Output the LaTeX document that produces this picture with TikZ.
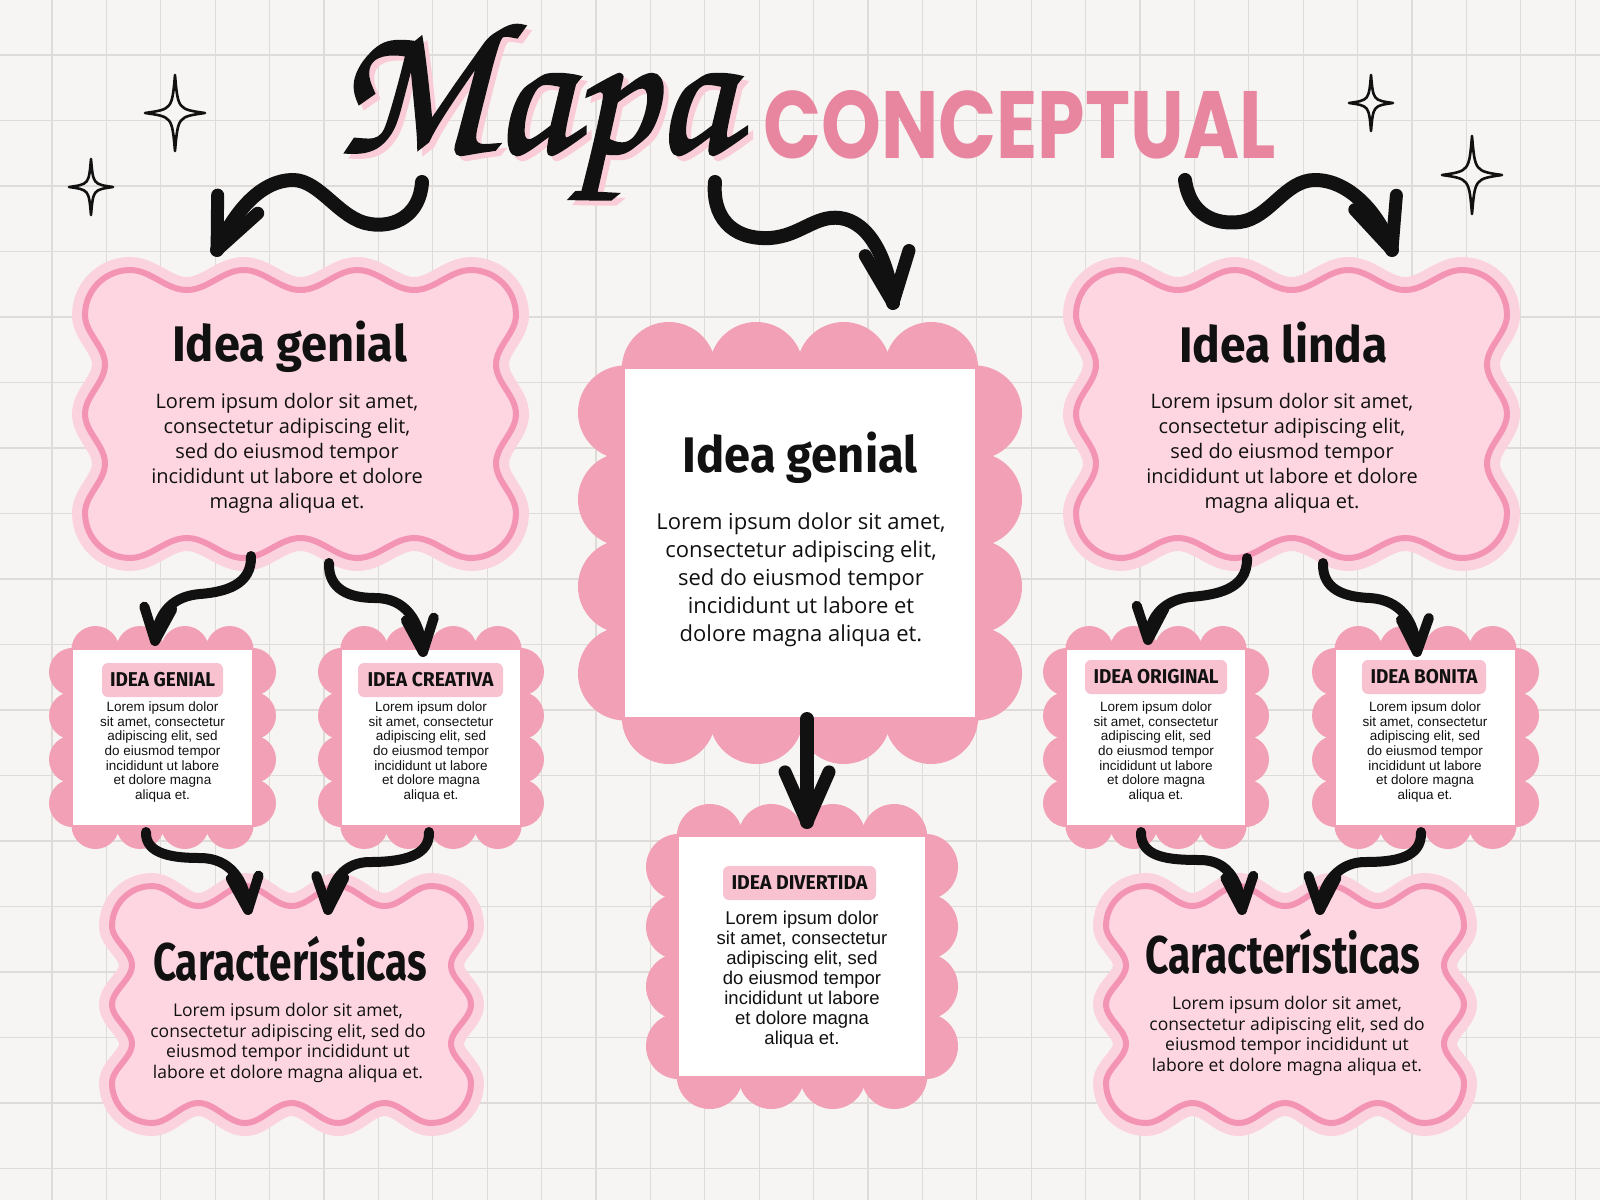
\documentclass[tikz,border=0pt]{standalone}
\usepackage{fontspec}
\usepackage{graphicx}
\usetikzlibrary{decorations.markings}
\newfontfamily\bodyf{Open Sans}
\newfontfamily\smallf{Liberation Sans}
\newfontfamily\headf{Fira Sans}
\newfontfamily\concf{Poppins}
\newfontfamily\scriptf{texgyrechorus-mediumitalic.otf}[FakeBold=1.6]
\definecolor{bg}{HTML}{F7F5F3}
\definecolor{gridc}{HTML}{DEDBD9}
\definecolor{halo}{HTML}{FBD3DE}
\definecolor{wfill}{HTML}{FDD6E1}
\definecolor{wline}{HTML}{F394B4}
\definecolor{scal}{HTML}{F2A0B5}
\definecolor{lab}{HTML}{F8C2D1}
\definecolor{conc}{HTML}{E8859F}
\definecolor{shadowc}{HTML}{F9CCD7}
\definecolor{ink}{HTML}{111111}
\def\wA{10}
\newcommand\htext[3]{\resizebox{#1pt}{\height}{\fontsize{#2}{#2}\selectfont\headf\bfseries #3}}
% wavy rounded rectangle: x1 y1 x2 y2 r mtop mside
\newcommand\wavy[7]{%
  \path[fill=wfill, preaction={draw=halo, line width=26pt}, draw=wline, line width=6pt, line join=round]
  plot[domain=0:1, samples=60, smooth, variable=\t] ({#1+#5+(#3-#1-2*#5)*\t}, {#2-\wA*cos(180*#6*\t)})
  -- plot[domain=90:0, samples=10, smooth, variable=\an] ({#3-#5+(#5+\wA)*cos(\an)}, {#2+#5-(#5+\wA)*sin(\an)})
  -- plot[domain=0:1, samples=50, smooth, variable=\t] ({#3+\wA*cos(180*#7*\t)}, {#2+#5+(#4-#2-2*#5)*\t})
  -- plot[domain=0:-90, samples=10, smooth, variable=\an] ({#3-#5+(#5+\wA)*cos(\an)}, {#4-#5-(#5+\wA)*sin(\an)})
  -- plot[domain=0:1, samples=60, smooth, variable=\t] ({#3-#5-(#3-#1-2*#5)*\t}, {#4+\wA*cos(180*#6*\t)})
  -- plot[domain=-90:-180, samples=10, smooth, variable=\an] ({#1+#5+(#5+\wA)*cos(\an)}, {#4-#5-(#5+\wA)*sin(\an)})
  -- plot[domain=0:1, samples=50, smooth, variable=\t] ({#1-\wA*cos(180*#7*\t)}, {#4-#5-(#4-#2-2*#5)*\t})
  -- plot[domain=180:90, samples=10, smooth, variable=\an] ({#1+#5+(#5+\wA)*cos(\an)}, {#2+#5-(#5+\wA)*sin(\an)})
  -- cycle;
}
\newcommand\scallop[6]{%
  \foreach \k in {1,...,#5}{%
    \pgfmathsetmacro\scx{#1+(#3-#1)*(\k-0.5)/#5}%
    \pgfmathsetmacro\scy{#2+(#4-#2)*(\k-0.5)/#5}%
    \fill[scal] (\scx,#2) circle[radius=#6pt] (\scx,#4) circle[radius=#6pt] (#1,\scy) circle[radius=#6pt] (#3,\scy) circle[radius=#6pt];
  }%
  \fill[white] (#1,#2) rectangle (#3,#4);
}
\newcommand\sparkle[4]{%
  \draw[ink, line width=2.6pt, line join=round, line cap=round]
  (#1,{#2-#4}) .. controls ({#1+0.1*#3},{#2-0.1*#4}) .. ({#1+#3},#2)
  .. controls ({#1+0.1*#3},{#2+0.1*#4}) .. (#1,{#2+#4})
  .. controls ({#1-0.1*#3},{#2+0.1*#4}) .. ({#1-#3},#2)
  .. controls ({#1-0.1*#3},{#2-0.1*#4}) .. (#1,{#2-#4});
}
\begin{document}
\begin{tikzpicture}[x=1pt,y=-1pt,
  arrbig/.style={draw=ink, line width=14pt, line cap=round, line join=round, postaction=decorate,
    decoration={markings, mark=at position 0.999 with {\draw[ink, line width=13pt, line cap=round, line join=round] (-50pt,22pt) -- (0pt,0pt) -- (-50pt,-22pt);}}},
  arrsmall/.style={draw=ink, line width=10pt, line cap=round, line join=round, postaction=decorate,
    decoration={markings, mark=at position 0.999 with {\draw[ink, line width=10pt, line cap=round, line join=round] (-33pt,14pt) -- (0pt,0pt) -- (-33pt,-14pt);}}},
  body/.style={align=center, inner sep=0pt, text=ink},
  lbl/.style={fill=lab, rounded corners=6pt, minimum height=34pt, inner sep=0pt, text=ink},
  ttl/.style={anchor=base, inner sep=0pt, text=ink}]
\useasboundingbox (0,0) rectangle (1600,1200);
\fill[bg] (0,0) rectangle (1600,1200);
\foreach \i in {0,...,28} \draw[gridc, line width=1.3pt] ({52+54.4*\i},0) -- ++(0,1200);
\foreach \j in {0,...,17} \draw[gridc, line width=1.3pt] (0,{55+65.5*\j}) -- ++(1600,0);

% title
\node[anchor=north west, inner sep=0pt, text=shadowc] (mapash) at (340,30) {\resizebox*{398pt}{174pt}{\fontsize{100}{100}\selectfont\scriptf Mapa}};
\node[anchor=north west, inner sep=0pt, text=ink] (mapa) at (335,25) {\resizebox*{398pt}{174pt}{\fontsize{100}{100}\selectfont\scriptf Mapa}};
\node[anchor=base west, inner sep=0pt, text=conc] (conc) at (763,158) {\resizebox{513pt}{68pt}{\fontsize{60}{60}\selectfont\concf\bfseries CONCEPTUAL}};

% sparkles
\sparkle{175}{113}{30}{38}
\sparkle{91}{187}{22}{28}
\sparkle{1371}{103}{22}{28}
\sparkle{1472}{175}{30}{39}

% wavy boxes
\wavy{95}{280}{506}{548}{35}{6}{4}
\wavy{1086}{280}{1497}{548}{35}{6}{4}
\wavy{122}{896}{461}{1113}{30}{6}{4}
\wavy{1116}{896}{1454}{1113}{30}{6}{4}

% scalloped boxes
\scallop{625}{369}{975}{717}{4}{47}
\scallop{679}{837}{925}{1076}{4}{33}
\scallop{73}{650}{252}{825}{4}{24}
\scallop{342}{650}{520}{825}{4}{24}
\scallop{1067}{650}{1245}{825}{4}{24}
\scallop{1336}{650}{1515}{825}{4}{24}

% arrows
\coordinate (a1s) at (422,182); \coordinate (a1e) at (217,250);
\draw[arrbig] (a1s) .. controls (420,215) and (395,228) .. (370,224) .. controls (340,220) and (320,180) .. (293,180) .. controls (262,180) and (235,210) .. (a1e);
\coordinate (a2s) at (715,182); \coordinate (a2e) at (893,303);
\draw[arrbig] (a2s) .. controls (712,215) and (730,240) .. (770,238) .. controls (800,236) and (815,215) .. (840,218) .. controls (870,222) and (888,260) .. (a2e);
\coordinate (a3s) at (1185,180); \coordinate (a3e) at (1392,250);
\draw[arrbig] (a3s) .. controls (1190,215) and (1215,225) .. (1240,222) .. controls (1270,218) and (1285,180) .. (1315,180) .. controls (1350,180) and (1380,215) .. (a3e);
\coordinate (a4s) at (807,719); \coordinate (a4e) at (807,822);
\draw[arrbig] (a4s) -- (a4e);
\coordinate (a5s) at (251,556); \coordinate (a5e) at (155,641);
\draw[arrsmall] (a5s) .. controls (252,585) and (225,592) .. (200,594) .. controls (175,596) and (158,610) .. (a5e);
\coordinate (a6s) at (329,563); \coordinate (a6e) at (423,652);
\draw[arrsmall] (a6s) .. controls (328,590) and (350,598) .. (375,598) .. controls (405,598) and (420,620) .. (a6e);
\coordinate (a7s) at (146,832); \coordinate (a7e) at (248,910);
\draw[arrsmall] (a7s) .. controls (145,855) and (175,858) .. (200,858) .. controls (230,858) and (245,880) .. (a7e);
\coordinate (a8s) at (429,832); \coordinate (a8e) at (328,910);
\draw[arrsmall] (a8s) .. controls (430,855) and (405,862) .. (370,862) .. controls (345,862) and (330,880) .. (a8e);
\coordinate (a9s) at (1247,558); \coordinate (a9e) at (1148,640);
\draw[arrsmall] (a9s) .. controls (1248,590) and (1215,595) .. (1190,597) .. controls (1165,600) and (1150,615) .. (a9e);
\coordinate (a10s) at (1323,563); \coordinate (a10e) at (1417,652);
\draw[arrsmall] (a10s) .. controls (1322,590) and (1345,597) .. (1370,598) .. controls (1400,600) and (1415,620) .. (a10e);
\coordinate (a11s) at (1141,832); \coordinate (a11e) at (1242,910);
\draw[arrsmall] (a11s) .. controls (1140,858) and (1170,860) .. (1200,860) .. controls (1230,860) and (1240,885) .. (a11e);
\coordinate (a12s) at (1421,832); \coordinate (a12e) at (1320,910);
\draw[arrsmall] (a12s) .. controls (1422,858) and (1395,862) .. (1365,862) .. controls (1340,862) and (1322,882) .. (a12e);

% titles
\node[ttl] (t1) at (289.5,361) {\htext{235}{50}{Idea genial}};
\node[ttl] (t2) at (800,472) {\htext{235}{50}{Idea genial}};
\node[ttl] (t3) at (1283.5,362) {\htext{209}{50}{Idea linda}};
\node[ttl] (t4) at (290,980) {\htext{274}{53}{Características}};
\node[ttl] (t5) at (1282.5,973) {\htext{275}{53}{Características}};

% labels
\node[lbl, minimum width=121pt] (l1) at (162.5,680) {\htext{105}{20}{IDEA GENIAL}};
\node[lbl, minimum width=145pt] (l2) at (430.5,680) {\htext{126}{20}{IDEA CREATIVA}};
\node[lbl, minimum width=142pt] (l3) at (1156,677) {\htext{125}{20}{IDEA ORIGINAL}};
\node[lbl, minimum width=124pt] (l4) at (1424,677) {\htext{107}{20}{IDEA BONITA}};
\node[lbl, minimum width=153pt] (l5) at (799.5,883) {\htext{136}{20}{IDEA DIVERTIDA}};

% body texts
\node[body, font=\bodyf\fontsize{20}{25}\selectfont] (b1) at (287,453) {Lorem ipsum dolor sit amet,\\consectetur adipiscing elit,\\sed do eiusmod tempor\\incididunt ut labore et dolore\\magna aliqua et.};
\node[body, font=\bodyf\fontsize{20}{25}\selectfont] (b3) at (1282,453) {Lorem ipsum dolor sit amet,\\consectetur adipiscing elit,\\sed do eiusmod tempor\\incididunt ut labore et dolore\\magna aliqua et.};
\node[body, font=\bodyf\fontsize{22}{28}\selectfont] (b2) at (801,580) {Lorem ipsum dolor sit amet,\\consectetur adipiscing elit,\\sed do eiusmod tempor\\incididunt ut labore et\\dolore magna aliqua et.};
\node[body, font=\bodyf\fontsize{17.5}{20.7}\selectfont] (b4) at (288,1043) {Lorem ipsum dolor sit amet,\\consectetur adipiscing elit, sed do\\eiusmod tempor incididunt ut\\labore et dolore magna aliqua et.};
\node[body, font=\bodyf\fontsize{17.5}{20.7}\selectfont] (b5) at (1287,1036) {Lorem ipsum dolor sit amet,\\consectetur adipiscing elit, sed do\\eiusmod tempor incididunt ut\\labore et dolore magna aliqua et.};
\node[body, font=\smallf\fontsize{13.5}{14.7}\selectfont] (s1) at (162.5,752) {Lorem ipsum dolor\\sit amet, consectetur\\adipiscing elit, sed\\do eiusmod tempor\\incididunt ut labore\\et dolore magna\\aliqua et.};
\node[body, font=\smallf\fontsize{13.5}{14.7}\selectfont] (s2) at (431,752) {Lorem ipsum dolor\\sit amet, consectetur\\adipiscing elit, sed\\do eiusmod tempor\\incididunt ut labore\\et dolore magna\\aliqua et.};
\node[body, font=\smallf\fontsize{13.5}{14.7}\selectfont] (s3) at (1156,752) {Lorem ipsum dolor\\sit amet, consectetur\\adipiscing elit, sed\\do eiusmod tempor\\incididunt ut labore\\et dolore magna\\aliqua et.};
\node[body, font=\smallf\fontsize{13.5}{14.7}\selectfont] (s4) at (1425,752) {Lorem ipsum dolor\\sit amet, consectetur\\adipiscing elit, sed\\do eiusmod tempor\\incididunt ut labore\\et dolore magna\\aliqua et.};
\node[body, font=\smallf\fontsize{18.5}{20}\selectfont] (s5) at (802,980) {Lorem ipsum dolor\\sit amet, consectetur\\adipiscing elit, sed\\do eiusmod tempor\\incididunt ut labore\\et dolore magna\\aliqua et.};
\end{tikzpicture}
\end{document}
